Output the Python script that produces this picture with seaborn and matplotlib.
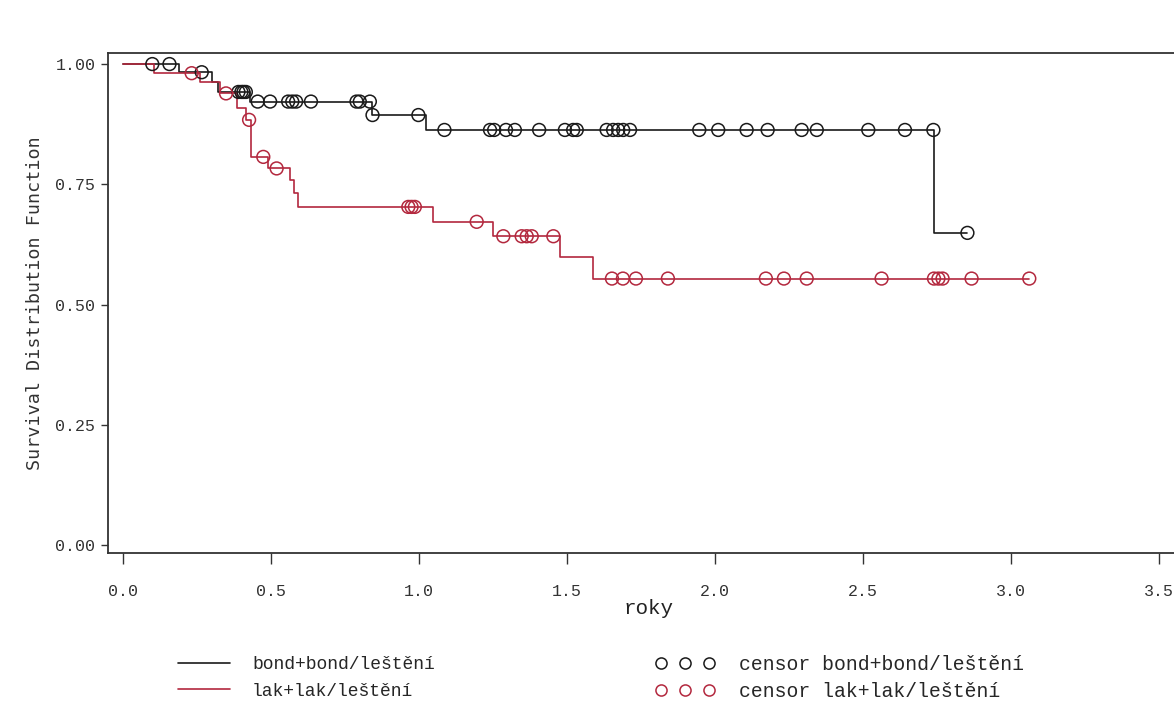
"""Kaplan-Meier style survival plot, bond vs lak groups."""
import numpy as np
import pandas as pd
import matplotlib
matplotlib.use("Agg")
import matplotlib.pyplot as plt
from matplotlib.lines import Line2D
import seaborn as sns

# step curves: time where the survival estimate changes, and the new level
bond_times = [0.0, 0.19, 0.30, 0.32, 0.43, 0.84, 1.023, 2.74]
bond_surv = [1.0, 0.983, 0.963, 0.942, 0.922, 0.894, 0.863, 0.649]
bond_censor = [0.099, 0.157, 0.266, 0.39, 0.40, 0.407, 0.415,
               0.455, 0.497, 0.558, 0.572, 0.585, 0.635, 0.789, 0.80, 0.834,
               0.843, 0.998,
               1.086, 1.24, 1.254, 1.294, 1.324, 1.406, 1.493, 1.521, 1.533,
               1.634, 1.656, 1.673, 1.69, 1.713, 1.947, 2.011, 2.107, 2.178,
               2.293, 2.344, 2.518, 2.642,
               2.738, 2.853]

lak_times = [0.0, 0.105, 0.26, 0.328, 0.384, 0.415, 0.434, 0.491, 0.565,
             0.578, 0.592, 1.046, 1.251, 1.476, 1.589]
lak_surv = [1.0, 0.981, 0.962, 0.939, 0.908, 0.884, 0.807, 0.783, 0.758,
            0.731, 0.703, 0.672, 0.642, 0.598, 0.554]
lak_censor = [0.232, 0.348, 0.426, 0.474, 0.519,
              0.964, 0.975, 0.986, 1.195,
              1.285, 1.347, 1.364, 1.381, 1.454,
              1.652, 1.689, 1.733, 1.841, 2.172, 2.233, 2.31, 2.563,
              2.74, 2.755, 2.769, 2.867, 3.062]

labels = ["bond+bond/leštění", "lak+lak/leštění"]
colors = ["#1a1a1a", "#b3283e"]

sns.set_style("ticks")
plt.rcParams["font.family"] = ["Liberation Mono", "DejaVu Sans Mono"]

fig = plt.figure(figsize=(11.74, 7.25), dpi=100)
ax = fig.add_axes([108 / 1174, 172 / 725, 1082 / 1174, 500 / 725])

groups = [(bond_times, bond_surv, bond_censor), (lak_times, lak_surv, lak_censor)]
for (times, surv, cens), lab, col in zip(groups, labels, colors):
    t = np.array(times + [max(cens)])
    s = np.array(surv + [surv[-1]])
    curve = pd.DataFrame({"roky": t, "S": s})
    sns.lineplot(data=curve, x="roky", y="S", color=col, lw=1.2,
                 drawstyle="steps-post", estimator=None, sort=False,
                 legend=False, ax=ax, zorder=2)

for (times, surv, cens), lab, col in zip(groups, labels, colors):
    idx = np.searchsorted(times, cens, side="right") - 1
    pts = pd.DataFrame({"roky": cens, "S": np.array(surv)[idx]})
    sns.scatterplot(data=pts, x="roky", y="S", s=85, marker="o",
                    facecolor="none", edgecolor=col, linewidth=1.1,
                    legend=False, ax=ax, zorder=3)

ax.set_xlim(-0.0507, 3.605)
ax.set_ylim(-0.0166, 1.023)
ax.set_xticks(np.arange(0, 3.51, 0.5))
ax.set_xticklabels([f"{v:.1f}" for v in np.arange(0, 3.51, 0.5)])
ax.set_yticks([0, 0.25, 0.5, 0.75, 1.0])
ax.set_yticklabels(["0.00", "0.25", "0.50", "0.75", "1.00"])
ax.tick_params(axis="x", length=8, width=1, pad=14, labelsize=12,
               color="#333", labelcolor="#333")
ax.tick_params(axis="y", length=5, width=1, pad=4, labelsize=12,
               color="#333", labelcolor="#333")
for side in ["top", "left", "bottom", "right"]:
    ax.spines[side].set_color("#333")
    ax.spines[side].set_linewidth(1.3)

ax.set_xlabel("roky", fontsize=15, labelpad=0, color="#222")
ax.set_ylabel("Survival Distribution Function", fontsize=13.2, labelpad=8,
              family=["DejaVu Sans Mono"], color="#333")

line_handles = [Line2D([], [], color=c, lw=1.2) for c in colors]
leg1 = fig.legend(line_handles, labels, loc="center left",
                  bbox_to_anchor=(178 / 1174, 1 - 678 / 725), frameon=False,
                  fontsize=13, handlelength=2.9, handletextpad=1.2,
                  labelspacing=0.5, borderpad=0, borderaxespad=0)

cens_handles = [Line2D([], [], ls="none", marker="o", mfc="none", mec=c,
                       ms=8, mew=1.1) for c in colors]
leg2 = fig.legend(cens_handles, ["censor " + l for l in labels], numpoints=3,
                  loc="center left", bbox_to_anchor=(655 / 1174, 1 - 678 / 725),
                  frameon=False, fontsize=14.2, handlelength=3.05,
                  handletextpad=1.2, labelspacing=0.4, borderpad=0,
                  borderaxespad=0)

fig.savefig("out.png", dpi=100)
